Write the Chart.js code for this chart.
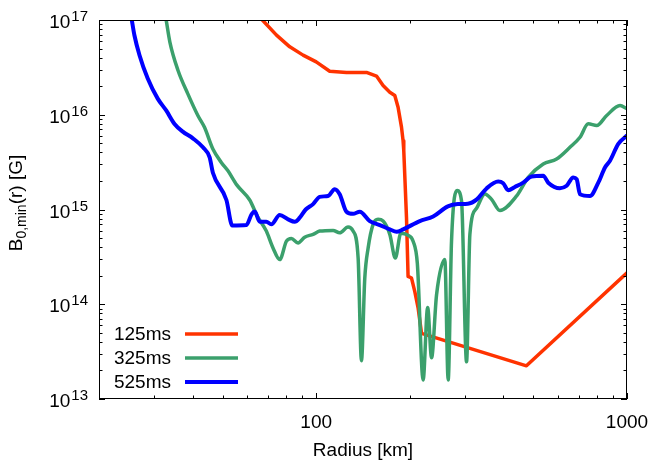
<!DOCTYPE html>
<html>
<head>
<meta charset="utf-8">
<script src="https://cdn.jsdelivr.net/npm/chart.js@4/dist/chart.umd.min.js"></script>
<style>
  html, body { margin: 0; padding: 0; background: #fff; }
  canvas { display: block; }
</style>
</head>
<body>
<canvas id="chart" width="664" height="465"></canvas>
<script>
// values (radius in km, field in G)
var radius125 = [67.1, 74.5, 82.2, 90.7, 100, 110.5, 125.1, 145.1, 156.3, 164.1, 172.5, 179, 183.4, 188.1, 190.3, 191.3, 195.2, 197.5, 202.6, 207.6, 212.8, 218.2, 474.7, 1000];
var field125 = [1e17, 6.93e16, 5.21e16, 4.26e16, 3.61e16, 2.88e16, 2.79e16, 2.8e16, 2.56e16, 2.04e16, 1.73e16, 1.6e16, 1.2e16, 7.4e15, 5.33e15, 4.18e15, 8.2e14, 1.97e14, 1.89e14, 1.36e14, 9.08e13, 4.93e13, 2.24e13, 2.15e14];

var radius325 = [32.9, 33.8, 35.9, 38.6, 41.6, 43.7, 46.5, 49.5, 52.0, 55.5, 61.1, 64.6, 69.1, 72.6, 76.3, 80.2, 83.2, 87.4, 91.8, 97.7, 102.6, 113.3, 119.0, 126.6, 131.4, 136.4, 139.8, 143.3, 146.9, 152.4, 158.1, 164.1, 172.5, 179.7, 187.2, 197.1, 205.0, 211.5, 220.8, 228.3, 235.0, 243.9, 259.3, 265.8, 272.5, 284.1, 293.5, 304.6, 312.2, 328.1, 348.9, 366.7, 389.9, 441.4, 481.0, 537.6, 593.6, 655.3, 705.9, 750.6, 798.9, 860.3, 949.5, 1000];
var field325 = [1e17, 5.89e16, 2.95e16, 1.67e16, 9.82e15, 7.38e15, 4.35e15, 3.14e15, 2.56e15, 1.82e15, 1.26e15, 8.53e14, 5.92e14, 3.93e14, 2.96e14, 4.63e14, 4.95e14, 4.44e14, 5.11e14, 5.46e14, 5.92e14, 6.02e14, 5.67e14, 6.52e14, 5.92e14, 3.08e14, 2.53e13, 1.89e14, 3.93e14, 6.97e14, 7.87e14, 7.55e14, 5.46e14, 3.08e14, 5.63e14, 5.36e14, 4.63e14, 2.71e14, 1.59e13, 9.24e13, 2.72e13, 1.26e14, 2.96e14, 1.59e13, 4.63e14, 1.59e15, 1.23e15, 2.47e13, 5.46e14, 1.03e15, 1.46e15, 1.28e15, 9.76e14, 1.39e15, 2.18e15, 3.02e15, 3.41e15, 4.53e15, 5.78e15, 8.02e15, 7.69e15, 9.82e15, 1.25e16, 1.16e16];

var radius525 = [25.5, 26.0, 27.0, 28.7, 30.9, 32.9, 35.0, 37.2, 40.1, 43.2, 45.4, 46.5, 51.4, 53.7, 59.6, 62.0, 63.4, 65.8, 69.1, 71.7, 76.3, 81.2, 85.3, 88.5, 92.5, 97.7, 102.6, 109.1, 114.7, 119.0, 125.1, 131.4, 138.1, 148.7, 160.2, 172.5, 181.3, 190.4, 215.4, 237.8, 265.2, 285.6, 307.5, 328.7, 353.3, 385.0, 399.5, 414.6, 435.8, 463.4, 493.2, 537.6, 557.9, 608.4, 639.4, 671.4, 688.6, 705.9, 760.1, 808.4, 849.5, 881.6, 937.6, 1000];
var field525 = [1e17, 6.9e16, 4.25e16, 2.41e16, 1.48e16, 1.11e16, 8.0e15, 6.64e15, 5.64e15, 4.53e15, 3.55e15, 2.44e15, 1.26e15, 6.77e14, 6.85e14, 8.96e14, 9.52e14, 7.43e14, 7.43e14, 6.97e14, 8.75e14, 7.87e14, 7.43e14, 8.19e14, 1.0e15, 1.14e15, 1.36e15, 1.39e15, 1.64e15, 1.45e15, 9.48e14, 9.02e14, 9.48e14, 7.55e14, 6.85e14, 6.17e14, 5.81e14, 6.17e14, 7.55e14, 8.43e14, 1.08e15, 1.14e15, 1.15e15, 1.28e15, 1.67e15, 1.97e15, 1.89e15, 1.60e15, 1.73e15, 1.92e15, 2.23e15, 2.27e15, 1.92e15, 1.68e15, 1.78e15, 2.18e15, 2.09e15, 1.45e15, 1.39e15, 1.92e15, 2.78e15, 3.27e15, 4.92e15, 6.03e15];

var seriesLabels = ['125ms', '325ms', '525ms'];
var xTickLabels = [100, 1000];
var yTickExps = [13, 14, 15, 16, 17];

var FONT = '"Liberation Sans", Arial, sans-serif';

function toPoints(xs, ys) {
  return xs.map((x, i) => ({ x: x, y: ys[i] }));
}

// gnuplot-like frame: box, inward ticks on all sides, labels with exponents, legend
var frame = {
  id: 'frame',
  afterDraw(chart) {
    var ctx = chart.ctx;
    var a = chart.chartArea;
    var xs = chart.scales.x, ys = chart.scales.y;
    ctx.save();
    ctx.strokeStyle = '#000';
    ctx.lineWidth = 1;
    ctx.strokeRect(a.left + 0.5, a.top + 0.5, a.right - a.left - 1, a.bottom - a.top - 1);

    ctx.beginPath();
    // x ticks
    for (var d = 10; d <= 1000; d *= 10) {
      for (var m = 1; m < 10; m++) {
        var v = d * m;
        if (v < xs.min || v > xs.max) continue;
        var px = Math.round(xs.getPixelForValue(v)) + 0.5;
        var len = m == 1 ? 6 : 3.5;
        ctx.moveTo(px, a.bottom); ctx.lineTo(px, a.bottom - len);
        ctx.moveTo(px, a.top); ctx.lineTo(px, a.top + len);
      }
    }
    // y ticks
    for (var e = 13; e <= 17; e++) {
      for (var m = 1; m < 10; m++) {
        var v = m * Math.pow(10, e);
        if (v > ys.max * 1.0001) continue;
        var py = Math.round(ys.getPixelForValue(v)) + 0.5;
        var len = m == 1 ? 6 : 3.5;
        ctx.moveTo(a.left, py); ctx.lineTo(a.left + len, py);
        ctx.moveTo(a.right, py); ctx.lineTo(a.right - len, py);
      }
    }
    ctx.stroke();

    ctx.fillStyle = '#000';
    // x tick labels
    ctx.font = '19px ' + FONT;
    ctx.textAlign = 'center';
    ctx.textBaseline = 'alphabetic';
    xTickLabels.forEach(v => {
      ctx.fillText(String(v), xs.getPixelForValue(v), a.bottom + 29);
    });

    // y tick labels 10^n
    yTickExps.forEach(n => {
      var py = ys.getPixelForValue(Math.pow(10, n));
      ctx.font = '15px ' + FONT;
      var ew = ctx.measureText(String(n)).width;
      ctx.textAlign = 'right';
      ctx.fillText(String(n), 88, py + 1);
      ctx.font = '19px ' + FONT;
      ctx.fillText('10', 88 - ew - 1, py + 8);
    });

    // x title
    ctx.font = '19px ' + FONT;
    ctx.textAlign = 'center';
    ctx.fillText('Radius [km]', (a.left + a.right) / 2, 456);

    // y title B_{0,min}(r) [G]
    ctx.save();
    ctx.translate(22, 203);
    ctx.rotate(-Math.PI / 2);
    ctx.textAlign = 'left';
    var parts = [['B', 19, 0], ['0,min', 14, 4], ['(r) [G]', 19, 0]];
    var total = 0;
    parts.forEach(p => { ctx.font = p[1] + 'px ' + FONT; total += ctx.measureText(p[0]).width; });
    var cx = -total / 2;
    parts.forEach(p => {
      ctx.font = p[1] + 'px ' + FONT;
      ctx.fillText(p[0], cx, p[2]);
      cx += ctx.measureText(p[0]).width;
    });
    ctx.restore();

    // legend
    ctx.font = '19px ' + FONT;
    ctx.textAlign = 'right';
    ctx.textBaseline = 'middle';
    var rows = [334, 358, 382];
    chart.data.datasets.forEach((ds, i) => {
      ctx.fillStyle = '#000';
      ctx.fillText(ds.label, 171, rows[i] + 1);
      ctx.strokeStyle = ds.borderColor;
      ctx.lineWidth = ds.borderWidth;
      ctx.beginPath();
      ctx.moveTo(185, rows[i]);
      ctx.lineTo(238, rows[i]);
      ctx.stroke();
    });
    ctx.restore();
  }
};

var ctx = document.getElementById('chart').getContext('2d');
var chart = new Chart(ctx, {
  type: 'line',
  data: {
    datasets: [
      {
        label: seriesLabels[0],
        data: toPoints(radius125, field125),
        borderColor: '#ff3300',
        borderWidth: 3.5,
        order: 2
      },
      {
        label: seriesLabels[1],
        data: toPoints(radius325, field325),
        borderColor: '#3ba06c',
        borderWidth: 3.5,
        cubicInterpolationMode: 'monotone',
        order: 1
      },
      {
        label: seriesLabels[2],
        data: toPoints(radius525, field525),
        borderColor: '#0000ff',
        borderWidth: 4,
        cubicInterpolationMode: 'monotone',
        order: 0
      }
    ]
  },
  options: {
    responsive: false,
    animation: false,
    layout: { padding: { left: 99, right: 37, top: 20, bottom: 66 } },
    elements: {
      point: { radius: 0, hoverRadius: 0 },
      line: { tension: 0, borderJoinStyle: 'round', borderCapStyle: 'round', fill: false }
    },
    scales: {
      x: { type: 'logarithmic', min: 20, max: 1000, display: false },
      y: { type: 'logarithmic', min: 1e13, max: 1e17, display: false }
    },
    plugins: {
      legend: { display: false },
      tooltip: { enabled: false }
    }
  },
  plugins: [frame]
});
</script>
</body>
</html>
